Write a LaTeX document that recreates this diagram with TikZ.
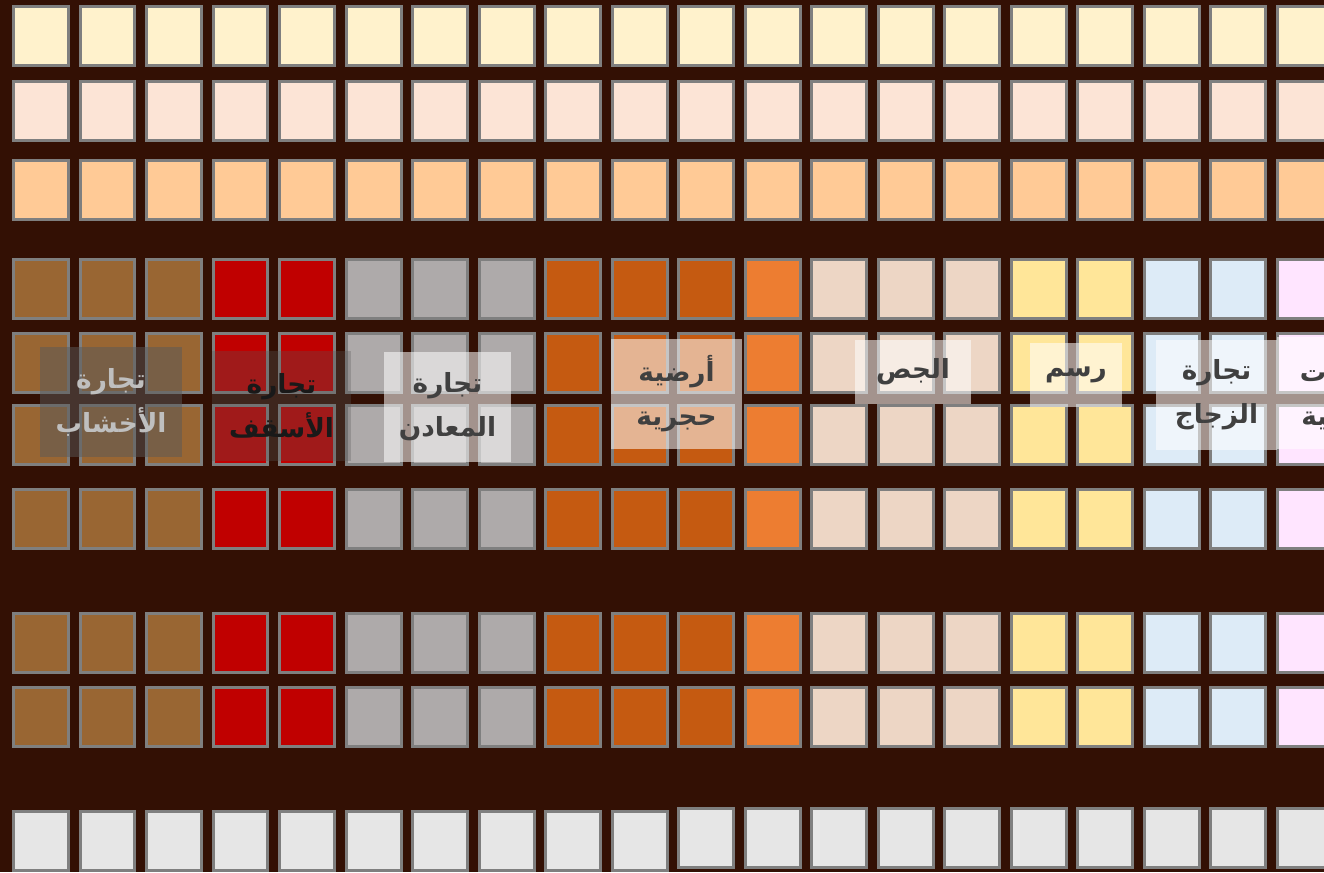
\documentclass[tikz,border=0pt]{standalone}
\usepackage{fontspec}
\newfontfamily\arabicfont[Script=Arabic]{DejaVu Sans}
\TeXXeTstate=1

\definecolor{bgbrown}{HTML}{331004}
\definecolor{cellborder}{HTML}{7F7F7F}
\definecolor{rowcream}{HTML}{FFF2CC}
\definecolor{rowblush}{HTML}{FCE4D6}
\definecolor{rowpeach}{HTML}{FFCA96}
\definecolor{rowgrey}{HTML}{E6E6E6}
\definecolor{wood}{HTML}{996633}
\definecolor{roof}{HTML}{C00000}
\definecolor{metal}{HTML}{AEAAAA}
\definecolor{stone}{HTML}{C55A11}
\definecolor{tile}{HTML}{ED7D31}
\definecolor{gypsum}{HTML}{EDD6C5}
\definecolor{paint}{HTML}{FFE699}
\definecolor{glass}{HTML}{DDEBF7}
\definecolor{sanitary}{HTML}{FFE5FF}
\definecolor{labeltext}{HTML}{404040}
\definecolor{labeldark}{HTML}{595959}

\tikzset{
  cell/.style={draw=cellborder, line width=0.06cm, minimum width=1.1cm,
    minimum height=1.18cm, inner sep=0pt},
  lbl/.style={fill=white, fill opacity=0.55, text opacity=1, text=labeltext,
    font=\arabicfont\bfseries\fontsize{15}{25}\selectfont, align=center,
    inner sep=0pt}
}

\begin{document}
\begin{tikzpicture}[x=0.02cm, y=-0.02cm]
    % background
    \useasboundingbox (0,0) rectangle (1324,872);
    \clip (0,0) rectangle (1324,872);
    \fill[bgbrown] (0,0) rectangle (1324,872);

    % plain rows on top
    \foreach \i in {1,...,20} {
        \node[cell, fill=rowcream] (a\i) at ({41+66.5*(\i-1)}, 36) {};
        \node[cell, fill=rowblush] (b\i) at ({41+66.5*(\i-1)}, 111) {};
        \node[cell, fill=rowpeach] (c\i) at ({41+66.5*(\i-1)}, 190) {};
    }

    % trade columns
    \foreach \col [count=\i] in {wood,wood,wood,roof,roof,metal,metal,metal,
        stone,stone,stone,tile,gypsum,gypsum,gypsum,paint,paint,glass,glass,sanitary} {
        \foreach \y [count=\r] in {289,363,435,519,643,717} {
            \node[cell, fill=\col] (t\r-\i) at ({41+66.5*(\i-1)}, \y) {};
        }
    }

    % bottom row
    \foreach \i in {1,...,10}
        \node[cell, fill=rowgrey] (g\i) at ({41+66.5*(\i-1)}, 841) {};
    \foreach \i in {11,...,20}
        \node[cell, fill=rowgrey] (g\i) at ({41+66.5*(\i-1)}, 838) {};

    % labels
    \node[lbl, fill=labeldark, fill opacity=0.5, text=black!25,
        minimum width=2.84cm, minimum height=2.2cm] (woodlbl) at (111,402)
        {\beginR تجارة\endR\\\beginR الأخشاب\endR};
    \node[lbl, fill=labeldark, fill opacity=0.3, text=black!90,
        minimum width=2.78cm, minimum height=2.2cm] (rooflbl) at (281.5,406)
        {\beginR تجارة\endR\\\beginR الأسقف\endR};
    \node[lbl, minimum width=2.54cm, minimum height=2.2cm] (metallbl) at (447.5,407)
        {\beginR تجارة\endR\\\beginR المعادن\endR};
    \node[lbl, minimum width=2.62cm, minimum height=2.22cm] (stonelbl) at (676.5,394)
        {\beginR أرضية\endR\\\beginR حجرية\endR};
    \node[lbl, minimum width=2.32cm, minimum height=1.28cm] (gypsumlbl) at (913,372)
        {\beginR الجص\endR};
    \node[lbl, minimum width=1.84cm, minimum height=1.28cm] (paintlbl) at (1076,375)
        {\beginR رسم\endR};
    \node[lbl, minimum width=2.42cm, minimum height=2.2cm] (glasslbl) at (1216.5,395)
        {\beginR تجارة\endR\\\beginR الزجاج\endR};
    \node[lbl, minimum width=2.4cm, minimum height=2.24cm] (sanitarylbl) at (1337,393)
        {\beginR أدوات\endR\\\beginR صحية\endR};
\end{tikzpicture}
\end{document}
